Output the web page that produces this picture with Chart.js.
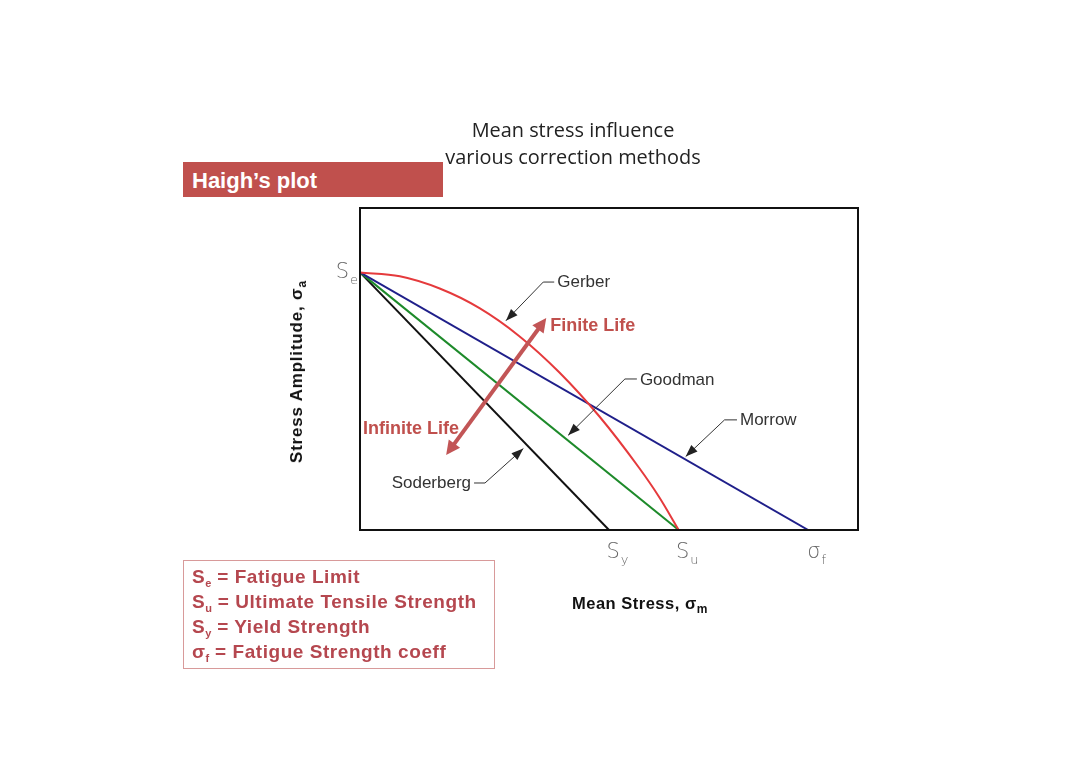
<!DOCTYPE html>
<html>
<head>
<meta charset="utf-8">
<script src="https://cdn.jsdelivr.net/npm/chart.js@4/dist/chart.umd.min.js"></script>
<style>
  body { margin: 0; background: #fff; }
  #wrap { position: relative; width: 1080px; height: 764px; }
  #c { position: absolute; left: 0; top: 0; }
  .title { position: absolute; left: 373px; width: 400px; text-align: center; top: 116px;
           font: 19.9px "Open Sans", sans-serif; color: #222; line-height: 27px; }
  .haigh { position: absolute; left: 183px; top: 162px; width: 251px; height: 35px; padding-left: 9px;
           background: #c0504d; color: #fff; font: bold 22px "Liberation Sans", Arial, sans-serif; line-height: 38px; }
  .legend { position: absolute; left: 183px; top: 560px; width: 302px; height: 102px; padding: 3px 0 2px 8px;
            border: 1px solid #d89a9a; color: #b5474f; font: bold 19px "Liberation Sans", Arial, sans-serif;
            line-height: 25px; letter-spacing: 0.55px; }
  sub { font-size: 11px; vertical-align: baseline; position: relative; top: 4px; line-height: 0; letter-spacing: 0; }
  .xt { position: absolute; left: 572px; top: 594px; font: bold 16.5px "Liberation Sans", Arial, sans-serif;
        color: #111; letter-spacing: 0.5px; }
  .yt { position: absolute; left: 297px; top: 372px; transform: translate(-50%, -50%) rotate(-90deg);
        white-space: nowrap; font: bold 17px "Liberation Sans", Arial, sans-serif; color: #111; letter-spacing: 0.8px; }
  .xt sub, .yt sub { font-size: 12px; }
</style>
</head>
<body>
<div id="wrap">
  <canvas id="c" width="1080" height="764"></canvas>
  <div class="title">Mean stress influence<br>various correction methods</div>
  <div class="haigh">Haigh’s plot</div>
  <div class="yt">Stress Amplitude, σ<sub>a</sub></div>
  <div class="xt">Mean Stress, σ<sub>m</sub></div>
  <div class="legend">
    S<sub>e</sub> = Fatigue Limit<br>
    S<sub>u</sub> = Ultimate Tensile Strength<br>
    S<sub>y</sub> = Yield Strength<br>
    σ<sub>f</sub> = Fatigue Strength coeff
  </div>
</div>
<script>
// valores (ejes normalizados 0..100)
const fatigueLimit = 80;     // Se
const yieldStrength = 50;    // Sy
const ultimateStrength = 64; // Su
const fatigueCoeff = 90;     // σf

const soderbergX = [0, 50];
const soderbergY = [80, 0];
const goodmanX = [0, 64];
const goodmanY = [80, 0];
const morrowX = [0, 90];
const morrowY = [80, 0];
const gerberX = [0, 8, 16, 24, 32, 40, 48, 56, 60, 64];
const gerberY = [80, 78.8, 75, 68.9, 60.2, 49, 35.4, 19.4, 10.4, 0];

const xTickValues = [50, 64, 90];
const xTickNames = [['S', 'y'], ['S', 'u'], ['σ', 'f']];
const yTickValues = [80];
const yTickNames = [['S', 'e']];

// etiquetas con flecha: texto, punto del texto, codo, punta
const callouts = [
  { text: 'Gerber',    tx: 39.6, ty: 76.8, cx: 36.8, cy: 77.0, px: 29.3, py: 65.0, align: 'left' },
  { text: 'Goodman',   tx: 56.2, ty: 46.6, cx: 53.2, cy: 46.9, px: 41.8, py: 29.4, align: 'left' },
  { text: 'Morrow',    tx: 76.3, ty: 34.2, cx: 73.2, cy: 34.2, px: 65.4, py: 22.8, align: 'left' },
  { text: 'Soderberg', tx: 22.3, ty: 14.6, cx: 25.1, cy: 14.6, px: 32.8, py: 25.3, align: 'right' }
];

const lifeArrow = { x1: 17.3, y1: 23.3, x2: 37.4, y2: 65.8 };

function pts(xs, ys) { return xs.map((x, i) => ({ x: x, y: ys[i] })); }

function arrowHead(ctx, x1, y1, x2, y2, size, width) {
  const a = Math.atan2(y2 - y1, x2 - x1);
  ctx.beginPath();
  ctx.moveTo(x2, y2);
  ctx.lineTo(x2 - size * Math.cos(a) + width * Math.sin(a), y2 - size * Math.sin(a) - width * Math.cos(a));
  ctx.lineTo(x2 - size * Math.cos(a) - width * Math.sin(a), y2 - size * Math.sin(a) + width * Math.cos(a));
  ctx.closePath();
  ctx.fill();
}

function subText(ctx, main, sub, x, y, align) {
  ctx.font = '300 21px "DejaVu Sans", sans-serif';
  const w1 = ctx.measureText(main).width;
  ctx.font = '300 13px "DejaVu Sans", sans-serif';
  const w2 = ctx.measureText(sub).width;
  let left = x;
  if (align === 'right') left = x - w1 - w2 - 1;
  if (align === 'center') left = x - (w1 + w2) / 2;
  ctx.textAlign = 'left';
  ctx.textBaseline = 'alphabetic';
  ctx.font = '300 21px "DejaVu Sans", sans-serif';
  ctx.fillText(main, left, y);
  ctx.font = '300 13px "DejaVu Sans", sans-serif';
  ctx.fillText(sub, left + w1 + 1, y + 6);
}

const haighPlugin = {
  id: 'haigh',
  afterDatasetsDraw(chart) {
    const ctx = chart.ctx;
    const xs = chart.scales.x, ys = chart.scales.y;
    const a = chart.chartArea;
    ctx.save();
    // marco
    ctx.strokeStyle = '#111';
    ctx.lineWidth = 2;
    ctx.strokeRect(a.left, a.top, a.right - a.left, a.bottom - a.top);

    // etiquetas de los ejes
    ctx.fillStyle = '#666';
    xTickValues.forEach((v, i) => {
      subText(ctx, xTickNames[i][0], xTickNames[i][1], xs.getPixelForValue(v) + 8, a.bottom + 28, 'center');
    });
    yTickValues.forEach((v, i) => {
      subText(ctx, yTickNames[i][0], yTickNames[i][1], a.left - 2, ys.getPixelForValue(v) + 6, 'right');
    });

    // llamadas
    callouts.forEach(c => {
      const tx = xs.getPixelForValue(c.tx), ty = ys.getPixelForValue(c.ty);
      const cx = xs.getPixelForValue(c.cx), cy = ys.getPixelForValue(c.cy);
      const px = xs.getPixelForValue(c.px), py = ys.getPixelForValue(c.py);
      ctx.strokeStyle = '#333';
      ctx.lineWidth = 1;
      ctx.beginPath();
      ctx.moveTo(c.align === 'left' ? tx - 3 : tx + 3, cy);
      ctx.lineTo(cx, cy);
      ctx.lineTo(px, py);
      ctx.stroke();
      ctx.fillStyle = '#222';
      arrowHead(ctx, cx, cy, px, py, 12, 4.5);
      ctx.fillStyle = '#333';
      ctx.font = '17px "Liberation Sans", Arial, sans-serif';
      ctx.textAlign = c.align;
      ctx.textBaseline = 'middle';
      ctx.fillText(c.text, tx, ty);
    });

    // flecha doble vida finita / infinita
    const x1 = xs.getPixelForValue(lifeArrow.x1), y1 = ys.getPixelForValue(lifeArrow.y1);
    const x2 = xs.getPixelForValue(lifeArrow.x2), y2 = ys.getPixelForValue(lifeArrow.y2);
    const ang = Math.atan2(y2 - y1, x2 - x1);
    ctx.strokeStyle = '#c25556';
    ctx.fillStyle = '#c25556';
    ctx.lineWidth = 4;
    ctx.beginPath();
    ctx.moveTo(x1 + 10 * Math.cos(ang), y1 + 10 * Math.sin(ang));
    ctx.lineTo(x2 - 10 * Math.cos(ang), y2 - 10 * Math.sin(ang));
    ctx.stroke();
    arrowHead(ctx, x1, y1, x2, y2, 14, 7);
    arrowHead(ctx, x2, y2, x1, y1, 14, 7);

    ctx.font = 'bold 18px "Liberation Sans", Arial, sans-serif';
    ctx.textAlign = 'left';
    ctx.textBaseline = 'middle';
    ctx.fillStyle = '#c0504d';
    ctx.fillText('Finite Life', xs.getPixelForValue(38.2), ys.getPixelForValue(63.4));
    ctx.fillText('Infinite Life', xs.getPixelForValue(0.6), ys.getPixelForValue(31.4));
    ctx.restore();
  }
};

new Chart(document.getElementById('c'), {
  type: 'scatter',
  data: {
    datasets: [
      { label: 'Gerber', data: pts(gerberX, gerberY), borderColor: '#e53a3c', cubicInterpolationMode: 'monotone' },
      { label: 'Morrow', data: pts(morrowX, morrowY), borderColor: '#1f1f8a' },
      { label: 'Goodman', data: pts(goodmanX, goodmanY), borderColor: '#1d8a2a' },
      { label: 'Soderberg', data: pts(soderbergX, soderbergY), borderColor: '#111111' }
    ].map(d => Object.assign(d, { showLine: true, pointRadius: 0, borderWidth: 2, fill: false }))
  },
  options: {
    responsive: false,
    animation: false,
    layout: { padding: { left: 360, right: 222, top: 208, bottom: 234 } },
    plugins: { legend: { display: false }, tooltip: { enabled: false } },
    scales: {
      x: { type: 'linear', min: 0, max: 100, display: false },
      y: { type: 'linear', min: 0, max: 100, display: false }
    }
  },
  plugins: [haighPlugin]
});
</script>
</body>
</html>
